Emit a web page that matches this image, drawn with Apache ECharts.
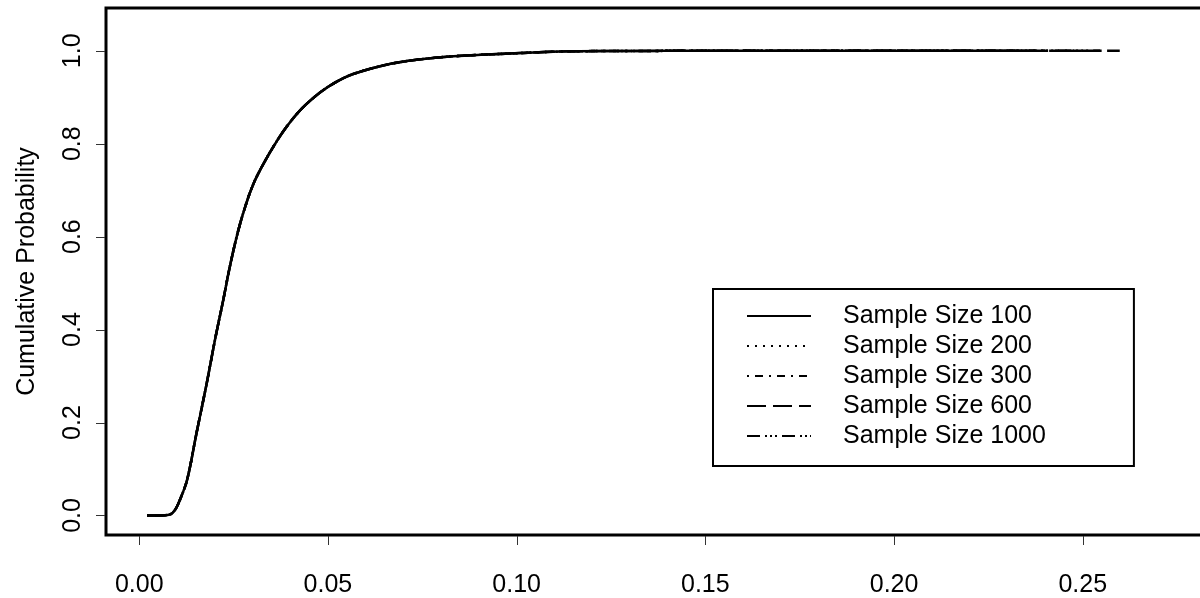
<!DOCTYPE html>
<html>
<head>
<meta charset="utf-8">
<script src="https://cdn.jsdelivr.net/npm/echarts@6/dist/echarts.min.js"></script>
<style>
html, body { margin: 0; padding: 0; background: #fff; }
#chart { width: 1200px; height: 598px; }
</style>
</head>
<body>
<div id="chart"></div>
<script>
// values
var sampleNames = ['Sample Size 100', 'Sample Size 200', 'Sample Size 300', 'Sample Size 600', 'Sample Size 1000'];
var cdfX = [0.0021, 0.005, 0.0081, 0.0095, 0.0108, 0.0127, 0.0152, 0.0179, 0.0201, 0.0223, 0.0240, 0.0262,
	0.0285, 0.0305, 0.0328, 0.0358, 0.0390, 0.0430, 0.0479, 0.0520, 0.0567, 0.0655, 0.0740, 0.0832,
	0.1009, 0.114, 0.130, 0.150];
var cdfP = [0, 0, 0.002, 0.012, 0.034, 0.077, 0.178, 0.285, 0.379, 0.465, 0.535, 0.612,
	0.675, 0.718, 0.755, 0.797, 0.836, 0.875, 0.910, 0.932, 0.950, 0.970, 0.981, 0.988,
	0.995, 0.9987, 0.9995, 0.9999];
var tailEnd = [0.236, 0.243, 0.250, 0.2598, 0.255];
var xTicks = [0, 0.05, 0.10, 0.15, 0.20, 0.25];
var yTicks = [0, 0.2, 0.4, 0.6, 0.8, 1.0];

var lineTypes = ['solid', [2, 6], [2, 6, 8, 6], [19, 7], [13, 5, 2, 3, 2, 3, 2, 5]];

var font = 'Liberation Sans, Arial, Helvetica, sans-serif';
var xMin = -0.0088, xMax = 0.2853, yMin = -0.042, yMax = 1.092;

var chart = echarts.init(document.getElementById('chart'));

var series = [];
sampleNames.forEach(function (name, i) {
	var data = [];
	cdfX.forEach(function (x, j) {
		data.push([x, cdfP[j]]);
	});
	data.push([tailEnd[i], 1]);
	series.push({
		name: name,
		type: 'line',
		data: data,
		symbol: 'none',
		smooth: 0.35,
		lineStyle: { color: '#000', width: 2.5, type: lineTypes[i] },
		itemStyle: { color: '#000' },
		emphasis: { disabled: true },
		z: 2 + i
	});
});

var option = {
	animation: false,
	backgroundColor: '#fff',
	grid: {
		left: 106, top: 8, width: 1110, height: 527,
		show: true, borderColor: '#000', borderWidth: 3,
		containLabel: false, outerBoundsMode: 'none'
	},
	legend: {
		orient: 'vertical',
		left: 713, top: 289,
		padding: [12, 88, 15, 33],
		itemWidth: 64, itemHeight: 14, itemGap: 0,
		borderColor: '#000', borderWidth: 2,
		itemStyle: { color: 'rgba(0,0,0,0)', borderWidth: 0, opacity: 0 },
		textStyle: { fontFamily: font, fontSize: 25, color: '#000', lineHeight: 30, padding: [0, 0, 0, 27] },
		selectedMode: false,
		data: sampleNames
	},
	xAxis: {
		type: 'value',
		min: xMin, max: xMax,
		axisLine: { show: false, onZero: false },
		splitLine: { show: false },
		axisTick: { show: false },
		axisLabel: {
			customValues: xTicks, margin: 38, color: '#000', fontFamily: font, fontSize: 25,
			formatter: function (v) { return v.toFixed(2); }
		}
	},
	yAxis: {
		type: 'value',
		min: yMin, max: yMax,
		name: 'Cumulative Probability',
		nameLocation: 'middle',
		nameGap: 66,
		nameTextStyle: { fontFamily: font, fontSize: 25, color: '#000' },
		axisLine: { show: false, onZero: false },
		splitLine: { show: false },
		axisTick: { show: false },
		axisLabel: {
			customValues: yTicks, rotate: 90, margin: 20, color: '#000', fontFamily: font, fontSize: 25,
			formatter: function (v) { return v.toFixed(1); }
		}
	},
	series: series
};

chart.setOption(option);

// tick marks outside the box, placed through the axes' own scales
var ticks = [];
var bottomY = chart.convertToPixel({ yAxisIndex: 0 }, yMin);
var leftX = chart.convertToPixel({ xAxisIndex: 0 }, xMin);
xTicks.forEach(function (v) {
	var px = Math.round(chart.convertToPixel({ xAxisIndex: 0 }, v));
	ticks.push({ type: 'rect', silent: true, z: 100, shape: { x: px, y: bottomY + 1, width: 1, height: 9 }, style: { fill: '#333' } });
});
yTicks.forEach(function (v) {
	var py = Math.round(chart.convertToPixel({ yAxisIndex: 0 }, v));
	ticks.push({ type: 'rect', silent: true, z: 100, shape: { x: leftX - 10, y: py, width: 9, height: 1 }, style: { fill: '#333' } });
});
chart.setOption({ graphic: { elements: ticks } });
</script>
</body>
</html>
